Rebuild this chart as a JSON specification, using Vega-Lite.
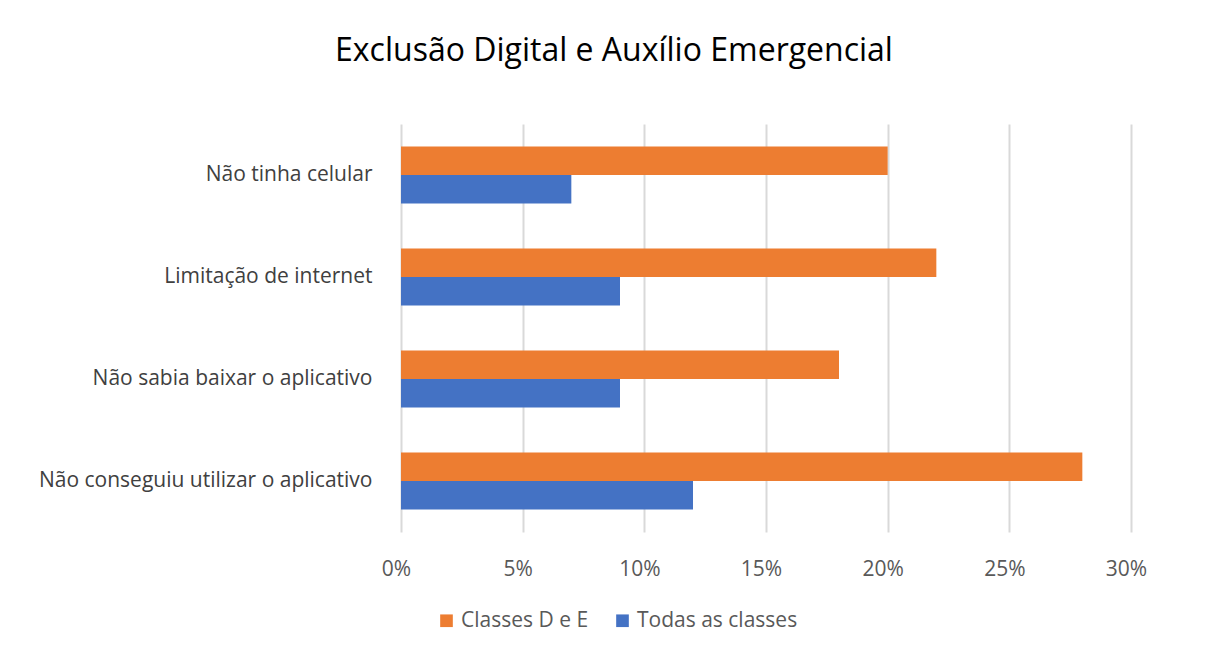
{
  "$schema": "https://vega.github.io/schema/vega-lite/v6.json",
  "width": 730,
  "height": 408,
  "autosize": {"type": "none"},
  "padding": {"left": 401, "top": 124, "right": 87, "bottom": 129},
  "background": "white",
  "title": {
    "text": "Exclusão Digital e Auxílio Emergencial",
    "font": "Open Sans",
    "fontSize": 32,
    "fontWeight": "normal",
    "color": "#000000",
    "anchor": "middle",
    "frame": "group",
    "dx": -152,
    "offset": 56
  },
  "data": {
    "values": [
      {"motivo": "Não tinha celular", "serie": "Classes D e E", "valor": 0.20},
      {"motivo": "Não tinha celular", "serie": "Todas as classes", "valor": 0.07},
      {"motivo": "Limitação de internet", "serie": "Classes D e E", "valor": 0.22},
      {"motivo": "Limitação de internet", "serie": "Todas as classes", "valor": 0.09},
      {"motivo": "Não sabia baixar o aplicativo", "serie": "Classes D e E", "valor": 0.18},
      {"motivo": "Não sabia baixar o aplicativo", "serie": "Todas as classes", "valor": 0.09},
      {"motivo": "Não conseguiu utilizar o aplicativo", "serie": "Classes D e E", "valor": 0.28},
      {"motivo": "Não conseguiu utilizar o aplicativo", "serie": "Todas as classes", "valor": 0.12}
    ]
  },
  "mark": {"type": "bar"},
  "encoding": {
    "y": {
      "field": "motivo",
      "type": "nominal",
      "sort": ["Não tinha celular", "Limitação de internet", "Não sabia baixar o aplicativo", "Não conseguiu utilizar o aplicativo"],
      "scale": {"paddingInner": 0.44, "paddingOuter": 0.22},
      "axis": {
        "title": null,
        "domain": false,
        "ticks": false,
        "labelPadding": 29,
        "labelLimit": 400,
        "labelFont": "Open Sans",
        "labelFontSize": 21,
        "labelColor": "#404040",
        "grid": false
      }
    },
    "yOffset": {
      "field": "serie",
      "type": "nominal",
      "sort": ["Classes D e E", "Todas as classes"],
      "scale": {"paddingInner": 0, "paddingOuter": 0}
    },
    "x": {
      "field": "valor",
      "type": "quantitative",
      "scale": {"domain": [0, 0.30], "nice": false},
      "axis": {
        "title": null,
        "format": ".0%",
        "values": [0, 0.05, 0.10, 0.15, 0.20, 0.25, 0.30],
        "domain": false,
        "ticks": false,
        "grid": true,
        "gridColor": "#d9d9d9",
        "gridWidth": 2,
        "labelFlush": false,
        "labelOffset": -5,
        "labelPadding": 26,
        "labelFont": "Open Sans",
        "labelFontSize": 21,
        "labelColor": "#595959"
      }
    },
    "color": {
      "field": "serie",
      "type": "nominal",
      "scale": {"domain": ["Classes D e E", "Todas as classes"], "range": ["#ed7d31", "#4472c4"]},
      "legend": {
        "title": null,
        "orient": "none",
        "direction": "horizontal",
        "legendX": 35,
        "legendY": 486,
        "symbolType": "square",
        "symbolSize": 160,
        "symbolStrokeWidth": 0,
        "labelFont": "Open Sans",
        "labelFontSize": 21,
        "labelLimit": 300,
        "labelColor": "#595959",
        "columnPadding": 23,
        "labelOffset": 4
      }
    }
  },
  "config": {
    "view": {"stroke": null}
  }
}
